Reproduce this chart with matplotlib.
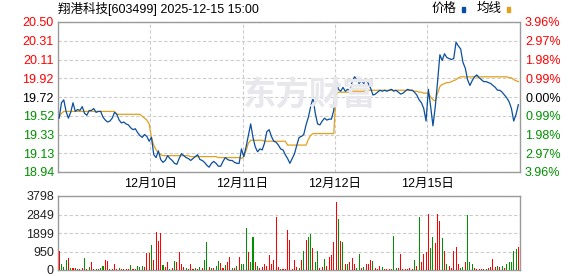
import matplotlib
matplotlib.use('Agg')
import matplotlib.pyplot as plt
import numpy as np

plt.rcParams['font.family'] = ['Liberation Sans', 'Noto Sans CJK SC']

# Data
title = "翔港科技[603499] 2025-12-15 15:00"
day_labels = ["12月10日", "12月11日", "12月12日", "12月15日"]
prev_close = 19.72
price_labels = ["18.94", "19.13", "19.33", "19.52", "19.72", "19.92", "20.11", "20.31", "20.50"]
pct_labels = ["3.96%", "2.97%", "1.98%", "0.99%", "0.00%", "0.99%", "1.98%", "2.97%", "3.96%"]
vol_labels = ["0", "950", "1899", "2849", "3798"]
vol_max = 3798

price_d1 = [19.50, 19.66, 19.69, 19.57, 19.50, 19.56, 19.66, 19.57, 19.59, 19.58,
            19.62, 19.55, 19.53, 19.58, 19.58, 19.60, 19.56, 19.57, 19.57, 19.51,
            19.48, 19.46, 19.47, 19.50, 19.56, 19.54, 19.48, 19.45, 19.46, 19.44,
            19.43, 19.40, 19.38, 19.39, 19.35, 19.32, 19.30, 19.33, 19.31, 19.26]
price_d2 = [19.30, 19.12, 19.09, 19.16, 19.07, 19.04, 19.06, 19.11, 19.08, 19.06,
            19.03, 19.02, 19.08, 19.13, 19.11, 19.09, 19.08, 19.06, 19.08, 19.10,
            19.12, 19.07, 19.06, 19.04, 19.01, 18.99, 19.03, 19.05, 19.03, 19.00,
            19.00, 19.05, 19.09, 19.07, 19.06, 19.06, 19.04, 19.03, 19.03, 19.18]
price_d3 = [19.10, 19.20, 19.32, 19.44, 19.30, 19.20, 19.15, 19.18, 19.17, 19.24,
            19.36, 19.38, 19.31, 19.26, 19.25, 19.22, 19.18, 19.17, 19.12, 19.08,
            19.03, 19.08, 19.13, 19.22, 19.30, 19.31, 19.33, 19.43, 19.51, 19.62,
            19.71, 19.55, 19.44, 19.43, 19.47, 19.50, 19.48, 19.49, 19.49, 19.58]
price_d4 = [19.90, 19.80, 19.78, 19.82, 19.78, 19.80, 19.79, 19.88, 19.93, 19.91,
            19.86, 19.89, 19.86, 19.90, 19.86, 19.81, 19.74, 19.75, 19.77, 19.79,
            19.78, 19.79, 19.78, 19.79, 19.80, 19.78, 19.79, 19.77, 19.75, 19.76,
            19.78, 19.80, 19.79, 19.79, 19.77, 19.74, 19.69, 19.66, 19.60, 19.47]
price_d5 = [19.80, 19.62, 19.42, 19.62, 19.88, 20.16, 20.10, 20.17, 20.13, 20.12,
            20.11, 20.12, 20.29, 20.25, 20.22, 20.08, 20.02, 19.90, 19.84, 19.89,
            19.93, 19.95, 19.92, 19.90, 19.88, 19.88, 19.87, 19.86, 19.84, 19.82,
            19.79, 19.79, 19.77, 19.74, 19.71, 19.67, 19.60, 19.47, 19.54, 19.64]

avg_d1 = [19.52, 19.55] + [19.57] * 23 + [19.54] * 11 + [19.52, 19.50, 19.48, 19.44]
avg_d2 = [19.30, 19.22, 19.17, 19.14, 19.12] + [19.11] * 12 + [19.10] * 12 + [19.09] * 10 + [19.08]
avg_d3 = [19.10, 19.16, 19.24] + [19.27] * 6 + [19.26] * 10 + [19.22] * 9 + [19.28, 19.32] + [19.34] * 10
avg_d4 = [19.74, 19.77] + [19.77] * 5 + [19.78] * 6 + [19.79] * 21 + [19.78, 19.78, 19.77, 19.77, 19.76, 19.76]
avg_d5 = [19.76, 19.72, 19.69, 19.68, 19.76, 19.83, 19.85, 19.86, 19.87, 19.87,
          19.88, 19.89, 19.90, 19.92] + [19.93] * 21 + [19.92, 19.92, 19.90, 19.89, 19.88]

vol_d1 = [1000, 300, 150, 500, 600, 100, 80, 120, 60, 50, 80, 600, 60, 150, 420, 50, 40, 60, 80, 200,
          520, 480, 60, 50, 300, 40, 90, 30, 40, 30, 40, 250, 40, 50, 200, 150, 200, 150, 890, 855]
vol_d2 = [1280, 500, 1930, 1490, 1915, 250, 150, 400, 60, 100, 460, 400, 940, 300, 150, 100, 60, 290, 60, 80,
          60, 150, 120, 510, 1440, 150, 120, 100, 200, 460, 350, 100, 250, 400, 650, 80, 100, 200, 680, 300]
vol_d3 = [300, 2150, 900, 400, 1680, 400, 200, 100, 150, 300, 200, 770, 300, 510, 2740, 150, 60, 60, 40, 2050,
          1540, 60, 510, 150, 100, 510, 990, 1540, 1680, 1850, 1110, 400, 990, 100, 150, 560, 200, 650, 770, 1420]
vol_d4 = [3500, 2620, 1470, 1440, 300, 300, 400, 600, 300, 100, 820, 80, 150, 300, 300, 510, 460, 100, 60, 200,
          150, 60, 50, 40, 50, 1745, 100, 80, 820, 60, 40, 60, 80, 60, 510, 200, 2720, 400, 820, 940]
vol_d5 = [2870, 1110, 1710, 1370, 2870, 2530, 1620, 975, 300, 200, 100, 990, 1200, 300, 100, 150, 400, 2820, 400, 300,
          100, 60, 40, 40, 40, 60, 80, 150, 560, 150, 200, 150, 200, 100, 300, 400, 430, 990, 1080, 1200]

# r = up tick, g = down tick
dir_d1 = "rgggrgrrgr" "rgrgrrgrgg" "rrgrrrgrrr" "rgrrgggrrr"
dir_d2 = "grrrrgrrgr" "grrrrgrrrg" "rgrggrgrgg" "rrgrrgrgrg"
dir_d3 = "ggrggrgrrr" "rrrrrrgrrr" "rrrrgrgrgg" "rggrrgrrrr"
dir_d4 = "rgrgrgrrrg" "grgrrrgrrr" "grrrrggrrr" "rrrrgrgrrr"
dir_d5 = "rggrrrgrgr" "rrrrggrggg" "rrrrrgrrrr" "grgrgggggr"

price = np.array(price_d1 + price_d2 + price_d3 + price_d4 + price_d5)
avg = np.array(avg_d1 + avg_d2 + avg_d3 + avg_d4 + avg_d5)
vol = np.array(vol_d1 + vol_d2 + vol_d3 + vol_d4 + vol_d5)
dirs = dir_d1 + dir_d2 + dir_d3 + dir_d4 + dir_d5

n = len(price)
per_day = len(price_d1)
x = np.arange(n) + 0.5
day_edges = [per_day * k for k in range(1, 5)]

RED = '#ff0000'
GREEN = '#009000'
BLUE = '#0b4f9e'
ORANGE = '#e0a21c'
GRID = '#cccccc'
SPINE = '#9a9a9a'

fig = plt.figure(figsize=(5.78, 2.76), dpi=100)
fig.patch.set_facecolor('white')

ax = fig.add_axes([58 / 578, 1 - 172 / 276, 461.5 / 578, 150 / 276])
axv = fig.add_axes([58 / 578, 1 - 270 / 276, 461.5 / 578, 74 / 276])

# watermark
fig.text(309 / 578, 1 - 96 / 276, "东方财富", fontsize=24, fontweight='bold',
         color='#e7e7ec', ha='center', va='center', zorder=0,
         family=['Noto Sans CJK SC'])

ax.patch.set_alpha(0)

lo, hi = 18.94, 20.50
ticks = np.linspace(lo, hi, 9)

ax.plot(x, avg, color=ORANGE, lw=0.9, zorder=3)
ax.plot(x, price, color=BLUE, lw=0.9, zorder=4)
ax.set_xlim(0, n)
ax.set_ylim(lo, hi)

ax.set_yticks(ticks)
ax.set_yticklabels(price_labels)
for t, lab in zip(ticks, ax.get_yticklabels()):
    if abs(t - prev_close) < 1e-6:
        lab.set_color('black')
    elif t > prev_close:
        lab.set_color(RED)
    else:
        lab.set_color(GREEN)
ax.tick_params(axis='y', length=0, pad=3, labelsize=9)

ax.set_xticks(day_edges)
ax.set_xticklabels(day_labels)
ax.tick_params(axis='x', length=0, pad=4, labelsize=9)

ax.grid(True, linestyle=(0, (3, 2)), color=GRID, linewidth=0.8)
for s in ax.spines.values():
    s.set_color(SPINE)
    s.set_linewidth(1.0)

# percent axis on the right
axr = ax.twinx()
axr.set_ylim(lo, hi)
axr.set_yticks(ticks)
axr.set_yticklabels(pct_labels)
for t, lab in zip(ticks, axr.get_yticklabels()):
    if abs(t - prev_close) < 1e-6:
        lab.set_color('black')
    elif t > prev_close:
        lab.set_color(RED)
    else:
        lab.set_color(GREEN)
axr.tick_params(axis='y', length=0, pad=4, labelsize=9)
for s in axr.spines.values():
    s.set_visible(False)

# volume
colors = [RED if d == 'r' else GREEN for d in dirs]
axv.bar(x, vol, width=0.45, color=colors, zorder=3)
axv.set_xlim(0, n)
axv.set_ylim(0, vol_max)
vticks = np.linspace(0, vol_max, 5)
axv.set_yticks(vticks)
axv.set_yticklabels(vol_labels)
axv.tick_params(axis='y', length=0, pad=3, labelsize=9, colors='#222222')
axv.set_xticks([])
axv.grid(True, axis='y', linestyle=(0, (3, 2)), color=GRID, linewidth=0.8)
for s in axv.spines.values():
    s.set_color(SPINE)
    s.set_linewidth(1.0)

# title and legend
fig.text(58 / 578, 1 - 9 / 276, title, fontsize=9, ha='left', va='center')
fig.text(432 / 578, 1 - 9 / 276, "价格", fontsize=9, ha='left', va='center')
fig.patches.append(plt.Rectangle((462 / 578, 1 - 12 / 276), 3 / 578, 5 / 276,
                                 color=BLUE, transform=fig.transFigure, figure=fig))
fig.text(477 / 578, 1 - 9 / 276, "均线", fontsize=9, ha='left', va='center')
fig.patches.append(plt.Rectangle((507 / 578, 1 - 12 / 276), 3 / 578, 5 / 276,
                                 color=ORANGE, transform=fig.transFigure, figure=fig))

fig.savefig('out.png', dpi=100, facecolor='white')
